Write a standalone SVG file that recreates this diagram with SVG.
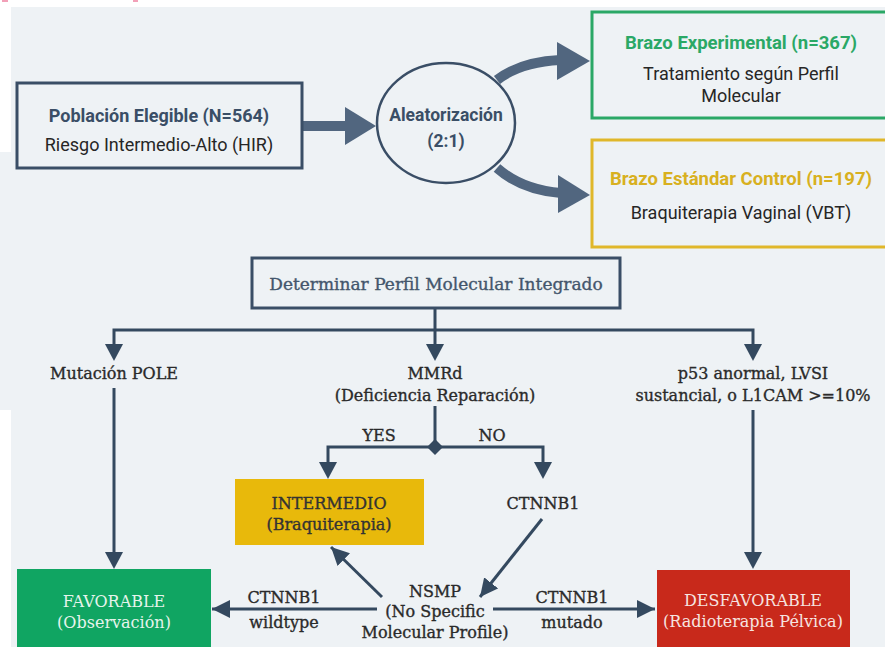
<svg xmlns="http://www.w3.org/2000/svg" width="885" height="647" viewBox="0 0 885 647">
  <defs>
    <marker id="ah" viewBox="0 0 10 10" refX="10" refY="5" markerWidth="6" markerHeight="6" markerUnits="strokeWidth" orient="auto">
      <path d="M0,0 L10,5 L0,10 z" fill="#34495f"/>
    </marker>
    <style>
      .bg { fill: #eef2f5; }
      .box { fill: none; stroke: #3a4e66; stroke-width: 3; }
      .ln { fill: none; stroke: #34495f; stroke-width: 3; }
      .thick { fill: none; stroke: #51667f; stroke-width: 10; }
      .head { fill: #51667f; }
      .sans { font-family: Roboto, "Liberation Sans", sans-serif; font-size: 18px; text-anchor: middle; }
      .sb { font-weight: bold; }
      .slab { font-family: "DejaVu Serif", "Liberation Serif", serif; font-size: 16px; text-anchor: middle; fill: #2a2a2a; stroke: #2a2a2a; stroke-width: 0.35; }
      .navy { fill: #3a4e66; }
      .dark { fill: #262626; }
    </style>
  </defs>

  <rect x="0" y="0" width="885" height="647" fill="#ffffff"/>
  <rect class="bg" x="11" y="7" width="874" height="640"/>
  <rect class="bg" x="0" y="152" width="11" height="258"/>
  <rect x="2" y="0" width="6" height="2" fill="#f2a0b8"/>
  <rect x="133" y="0" width="5" height="2" fill="#f2a0b8"/>

  <g id="connectors">
    <!-- top thick arrows -->
    <line class="thick" x1="302" y1="126" x2="348" y2="126"/>
    <polygon class="head" points="345,107 376,126 345,145"/>
    <path class="thick" d="M497,80 Q520,62 560,60"/>
    <polygon class="head" points="557,42 590,61 557,80"/>
    <path class="thick" d="M497,168 Q522,190 561,193"/>
    <polygon class="head" points="558,175 590,195 558,213"/>

    <!-- molecular tree -->
    <line class="ln" x1="435" y1="308" x2="435" y2="330"/>
    <polyline class="ln" points="114,345 114,330 753,330 753,345"/>
    <line class="ln" x1="435" y1="330" x2="435" y2="345"/>
    <polygon fill="#34495f" points="105,344 123,344 114,361"/>
    <polygon fill="#34495f" points="426,344 444,344 435,361"/>
    <polygon fill="#34495f" points="744,344 762,344 753,361"/>

    <line class="ln" x1="114" y1="388" x2="114" y2="553"/>
    <polygon fill="#34495f" points="105,552 123,552 114,569"/>

    <line class="ln" x1="753" y1="410" x2="753" y2="553"/>
    <polygon fill="#34495f" points="744,552 762,552 753,569"/>

    <line class="ln" x1="435" y1="406" x2="435" y2="447"/>
    <polyline class="ln" points="328,463 328,447 543,447 543,463"/>
    <polygon fill="#34495f" points="435,439 443,447 435,455 427,447"/>
    <polygon fill="#34495f" points="319,462 337,462 328,479"/>
    <polygon fill="#34495f" points="534,462 552,462 543,479"/>

    <line class="ln" x1="542" y1="519" x2="480" y2="597" marker-end="url(#ah)"/>
    <line class="ln" x1="382" y1="597" x2="331" y2="547" marker-end="url(#ah)"/>
    <line class="ln" x1="377" y1="609" x2="212" y2="609" marker-end="url(#ah)"/>
    <line class="ln" x1="493" y1="609" x2="655" y2="609" marker-end="url(#ah)"/>
  </g>

  <g id="poblacion">
    <rect class="box" x="17" y="83" width="285" height="85"/>
    <text class="sans sb navy" x="159" y="122">Población Elegible (N=564)</text>
    <text class="sans dark" x="159" y="151">Riesgo Intermedio-Alto (HIR)</text>
  </g>

  <g id="aleatorizacion">
    <ellipse cx="446" cy="123" rx="69" ry="60" fill="none" stroke="#3a4e66" stroke-width="2.5"/>
    <text class="sans sb navy" x="446" y="121" style="font-size:17.5px">Aleatorización</text>
    <text class="sans sb navy" x="446" y="147" style="font-size:17.5px">(2:1)</text>
  </g>

  <g id="experimental">
    <rect x="592" y="12" width="300" height="106" fill="none" stroke="#2aa866" stroke-width="3"/>
    <text class="sans sb" x="741" y="49" fill="#2aa866" style="font-size:18.5px">Brazo Experimental (n=367)</text>
    <text class="sans dark" x="741" y="80">Tratamiento según Perfil</text>
    <text class="sans dark" x="741" y="102">Molecular</text>
  </g>

  <g id="estandar">
    <rect x="592" y="140" width="300" height="107" fill="none" stroke="#e0b72a" stroke-width="3"/>
    <text class="sans sb" x="741" y="185" fill="#d8b020" style="font-size:18.5px">Brazo Estándar Control (n=197)</text>
    <text class="sans dark" x="741" y="219">Braquiterapia Vaginal (VBT)</text>
  </g>

  <g id="determinar">
    <rect class="box" x="252" y="258" width="368" height="50"/>
    <text class="slab" x="436" y="290" style="fill:#44566c;stroke:#44566c;font-size:17px">Determinar Perfil Molecular Integrado</text>
  </g>

  <g id="pole">
    <text class="slab" x="114" y="379">Mutación POLE</text>
  </g>

  <g id="mmrd">
    <text class="slab" x="435" y="379">MMRd</text>
    <text class="slab" x="435" y="401">(Deficiencia Reparación)</text>
  </g>

  <g id="p53">
    <text class="slab" x="753" y="379">p53 anormal, LVSI</text>
    <text class="slab" x="753" y="401">sustancial, o L1CAM &gt;=10%</text>
  </g>

  <g id="labels">
    <text class="slab" x="379" y="441">YES</text>
    <text class="slab" x="492" y="441">NO</text>
    <text class="slab" x="284" y="603">CTNNB1</text>
    <text class="slab" x="284" y="628">wildtype</text>
    <text class="slab" x="572" y="603">CTNNB1</text>
    <text class="slab" x="572" y="628">mutado</text>
  </g>

  <g id="intermedio">
    <rect x="235" y="479" width="189" height="66" fill="#e8b90b"/>
    <text class="slab" x="329" y="509" style="fill:#333;stroke:#333">INTERMEDIO</text>
    <text class="slab" x="329" y="530" style="fill:#333;stroke:#333">(Braquiterapia)</text>
  </g>

  <g id="ctnnb1">
    <text class="slab" x="543" y="509">CTNNB1</text>
  </g>

  <g id="nsmp">
    <text class="slab" x="435" y="597">NSMP</text>
    <text class="slab" x="435" y="617">(No Specific</text>
    <text class="slab" x="435" y="638">Molecular Profile)</text>
  </g>

  <g id="favorable">
    <rect x="17" y="569" width="194" height="90" fill="#10a562"/>
    <text class="slab" x="114" y="607" style="fill:#e6f4ec;stroke:none">FAVORABLE</text>
    <text class="slab" x="114" y="628" style="fill:#e6f4ec;stroke:none">(Observación)</text>
  </g>

  <g id="desfavorable">
    <rect x="657" y="570" width="193" height="90" fill="#c8291b"/>
    <text class="slab" x="753" y="606" style="fill:#f6e4e0;stroke:none">DESFAVORABLE</text>
    <text class="slab" x="753" y="627" style="fill:#f6e4e0;stroke:none">(Radioterapia Pélvica)</text>
  </g>
</svg>
